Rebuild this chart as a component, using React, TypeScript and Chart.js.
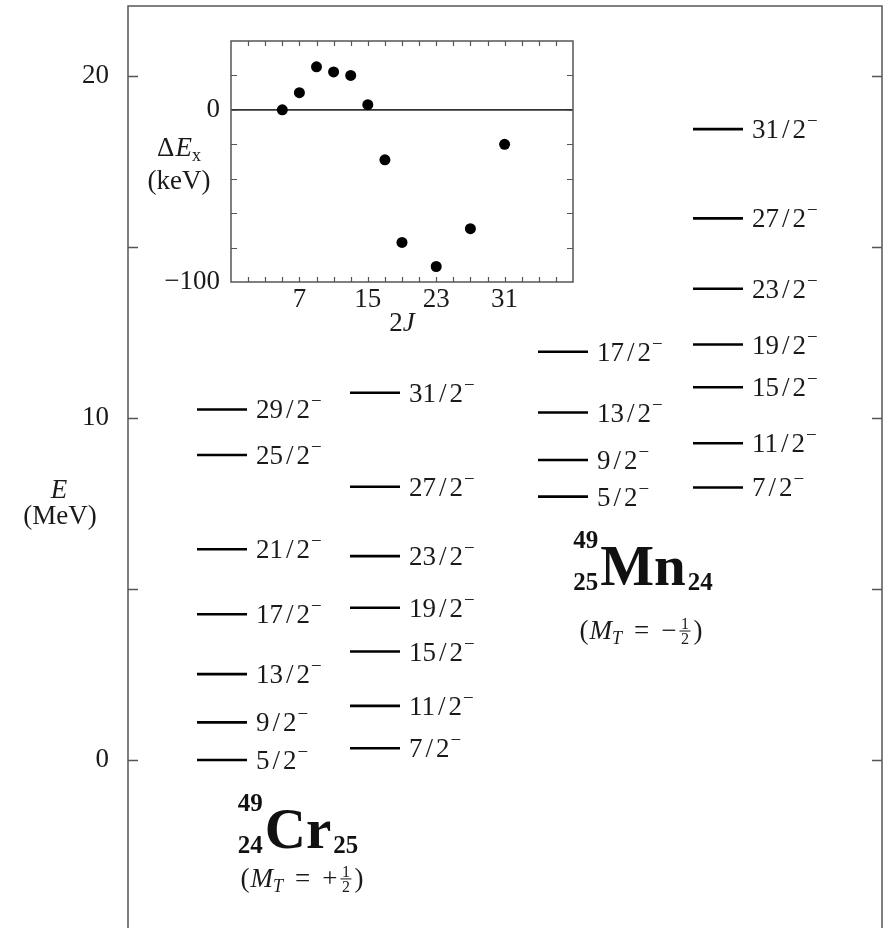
import React, { useEffect, useRef } from 'react';
import { Chart, registerables } from 'chart.js';

Chart.register(...registerables);

const SERIF = '"Liberation Serif", "Times New Roman", serif';
const INK = '#1a1a1a';
const FRAME = '#555555';

// ---------------- data ----------------
// Level scheme: 2J of each level and excitation energy E (MeV)
const crLevels2J_A = [5, 9, 13, 17, 21, 25, 29];
const crLevelsE_A = [0.0, 1.1, 2.51, 4.26, 6.16, 8.92, 10.25];
const crLevels2J_B = [7, 11, 15, 19, 23, 27, 31];
const crLevelsE_B = [0.34, 1.58, 3.17, 4.45, 5.96, 7.99, 10.74];
const mnLevels2J_A = [5, 9, 13, 17];
const mnLevelsE_A = [7.7, 8.77, 10.16, 11.94];
const mnLevels2J_B = [7, 11, 15, 19, 23, 27, 31];
const mnLevelsE_B = [7.97, 9.26, 10.9, 12.15, 13.78, 15.84, 18.45];
const energyTickLabels = [0, 10, 20];
const energyTickMarks = [0, 5, 10, 15, 20];

// Inset: mirror energy difference ΔEx (keV) vs 2J
const mirror2J = [5, 7, 9, 11, 13, 15, 17, 19, 23, 27, 31];
const mirrorDeltaE = [0, 10, 25, 22, 20, 3, -29, -77, -91, -69, -20];
const inset2JTickLabels = [7, 15, 23, 31];
const insetDETickLabels = [0, -100];

// ---------------- layout ----------------
const LEVEL_COLUMNS = [
  { x: 69, twoJ: crLevels2J_A, e: crLevelsE_A },
  { x: 222, twoJ: crLevels2J_B, e: crLevelsE_B },
  { x: 410, twoJ: mnLevels2J_A, e: mnLevelsE_A },
  { x: 565, twoJ: mnLevels2J_B, e: mnLevelsE_B },
];
const LINE_LEN = 50;
const NUCLIDES = [
  { sym: 'Cr', A: '49', Z: '24', N: '25', x: 170, e: -2.57, mtX: 174, mtE: -3.45, sign: '+' },
  { sym: 'Mn', A: '49', Z: '25', N: '24', x: 515, e: 5.12, mtX: 513, mtE: 3.8, sign: '\u2212' },
];

type Run = { t: string; font: string; dy?: number; gap?: number };

function runsWidth(ctx: CanvasRenderingContext2D, runs: Run[]) {
  let w = 0;
  for (const r of runs) {
    ctx.font = r.font;
    w += ctx.measureText(r.t).width + (r.gap || 0);
  }
  return w;
}

function drawRuns(ctx: CanvasRenderingContext2D, runs: Run[], x: number, base: number) {
  let cx = x;
  ctx.textAlign = 'left';
  ctx.textBaseline = 'alphabetic';
  for (const r of runs) {
    ctx.font = r.font;
    ctx.fillText(r.t, cx, base + (r.dy || 0));
    cx += ctx.measureText(r.t).width + (r.gap || 0);
  }
  return cx;
}

function drawCentered(ctx: CanvasRenderingContext2D, runs: Run[], cx: number, base: number) {
  const w = runsWidth(ctx, runs);
  drawRuns(ctx, runs, cx - w / 2, base);
}

function drawSpin(ctx: CanvasRenderingContext2D, x: number, yMid: number, twoJ: number) {
  const base = yMid + 9;
  ctx.fillStyle = INK;
  ctx.textAlign = 'left';
  ctx.textBaseline = 'alphabetic';
  ctx.font = `27px ${SERIF}`;
  const num = String(twoJ);
  ctx.fillText(num, x, base);
  let cx = x + ctx.measureText(num).width;
  const sw = ctx.measureText('/').width;
  const box = 13.5;
  ctx.fillText('/', cx + (box - sw) / 2, base);
  cx += box;
  ctx.fillText('2', cx, base);
  cx += ctx.measureText('2').width + 1;
  ctx.font = `19px ${SERIF}`;
  ctx.fillText('\u2212', cx, base - 11);
}

function drawMT(ctx: CanvasRenderingContext2D, cx: number, cy: number, sign: string) {
  const big = `27px ${SERIF}`;
  const it = `italic 27px ${SERIF}`;
  const itS = `italic 18px ${SERIF}`;
  const fr = `16px ${SERIF}`;
  const base = cy + 9;
  const pre: Run[] = [
    { t: '(', font: big, gap: 1 },
    { t: 'M', font: it },
    { t: 'T', font: itS, dy: 5, gap: 12 },
    { t: '=', font: big, gap: 12 },
    { t: sign, font: big, gap: 3 },
  ];
  const post: Run[] = [{ t: ')', font: big }];
  const fracW = 11;
  const total = runsWidth(ctx, pre) + fracW + 3 + runsWidth(ctx, post);
  ctx.fillStyle = INK;
  let x = cx - total / 2;
  x = drawRuns(ctx, pre, x, base);
  const barY = base - 8;
  ctx.font = fr;
  ctx.textAlign = 'center';
  ctx.fillText('1', x + fracW / 2, barY - 2);
  ctx.fillText('2', x + fracW / 2, barY + 13);
  ctx.fillRect(x, barY - 0.5, fracW, 1);
  x += fracW + 3;
  drawRuns(ctx, post, x, base);
}

function drawNuclide(ctx: CanvasRenderingContext2D, cx: number, base: number, n: any) {
  const small = `bold 25px ${SERIF}`;
  const bigB = `bold 57px ${SERIF}`;
  ctx.fillStyle = '#111';
  ctx.textBaseline = 'alphabetic';
  ctx.font = small;
  const wA = ctx.measureText(n.A).width;
  const wZ = ctx.measureText(n.Z).width;
  const wN = ctx.measureText(n.N).width;
  const pre = Math.max(wA, wZ);
  ctx.font = bigB;
  const wS = ctx.measureText(n.sym).width;
  const total = pre + 2 + wS + 2 + wN;
  const x = cx - total / 2;
  ctx.font = small;
  ctx.textAlign = 'right';
  ctx.fillText(n.A, x + pre, base - 37);
  ctx.fillText(n.Z, x + pre, base + 5);
  ctx.textAlign = 'left';
  ctx.font = bigB;
  ctx.fillText(n.sym, x + pre + 2, base);
  ctx.font = small;
  ctx.fillText(n.N, x + pre + 2 + wS + 2, base + 5);
}

const mainDecor = {
  id: 'mainDecor',
  afterDraw(chart: any) {
    const { ctx, chartArea: a, scales } = chart;
    const ys = scales.y;
    const xs = scales.x;
    ctx.save();
    // frame
    ctx.strokeStyle = FRAME;
    ctx.lineWidth = 1.5;
    ctx.strokeRect(a.left, a.top, a.right - a.left, a.bottom - a.top);
    // inward ticks on both sides
    ctx.beginPath();
    for (const v of energyTickMarks) {
      const py = Math.round(ys.getPixelForValue(v)) + 0.5;
      ctx.moveTo(a.left, py);
      ctx.lineTo(a.left + 10, py);
      ctx.moveTo(a.right, py);
      ctx.lineTo(a.right - 10, py);
    }
    ctx.stroke();
    // level labels
    chart.data.datasets.forEach((ds: any, i: number) => {
      const meta = chart.getDatasetMeta(i);
      const pt = meta.data[1];
      if (pt) drawSpin(ctx, pt.x + 9, pt.y, ds.twoJ);
    });
    // axis title
    ctx.fillStyle = INK;
    drawCentered(ctx, [{ t: 'E', font: `italic 27px ${SERIF}` }], a.left - 69, ys.getPixelForValue(7.92) + 9);
    drawCentered(ctx, [{ t: '(MeV)', font: `27px ${SERIF}` }], a.left - 68, ys.getPixelForValue(7.16) + 9);
    // nuclide names
    for (const n of NUCLIDES) {
      drawNuclide(ctx, xs.getPixelForValue(n.x), ys.getPixelForValue(n.e), n);
      drawMT(ctx, xs.getPixelForValue(n.mtX), ys.getPixelForValue(n.mtE), n.sign);
    }
    ctx.restore();
  },
};

const insetDecor = {
  id: 'insetDecor',
  beforeDatasetsDraw(chart: any) {
    const { ctx, chartArea: a, scales } = chart;
    const py = scales.y.getPixelForValue(0);
    ctx.save();
    ctx.strokeStyle = '#333';
    ctx.lineWidth = 1.6;
    ctx.beginPath();
    ctx.moveTo(a.left, py);
    ctx.lineTo(a.right, py);
    ctx.stroke();
    ctx.restore();
  },
  afterDraw(chart: any) {
    const { ctx, chartArea: a, scales } = chart;
    const xs = scales.x;
    const ys = scales.y;
    ctx.save();
    ctx.strokeStyle = FRAME;
    ctx.lineWidth = 1.5;
    ctx.strokeRect(a.left, a.top, a.right - a.left, a.bottom - a.top);
    ctx.lineWidth = 1.2;
    ctx.beginPath();
    for (const t of xs.ticks) {
      if (t.value <= xs.min || t.value >= xs.max) continue;
      const px = Math.round(xs.getPixelForValue(t.value)) + 0.5;
      ctx.moveTo(px, a.top);
      ctx.lineTo(px, a.top + 5);
      ctx.moveTo(px, a.bottom);
      ctx.lineTo(px, a.bottom - 5);
    }
    for (const t of ys.ticks) {
      if (t.value <= ys.min || t.value >= ys.max) continue;
      const py = Math.round(ys.getPixelForValue(t.value)) + 0.5;
      ctx.moveTo(a.left, py);
      ctx.lineTo(a.left + 6, py);
      ctx.moveTo(a.right, py);
      ctx.lineTo(a.right - 6, py);
    }
    ctx.stroke();
    ctx.fillStyle = INK;
    drawCentered(
      ctx,
      [
        { t: '\u0394', font: `27px ${SERIF}`, gap: 1 },
        { t: 'E', font: `italic 27px ${SERIF}` },
        { t: 'x', font: `18px ${SERIF}`, dy: 5 },
      ],
      a.left - 52,
      a.top + 115
    );
    drawCentered(ctx, [{ t: '(keV)', font: `27px ${SERIF}` }], a.left - 52, a.top + 148);
    drawCentered(
      ctx,
      [
        { t: '2', font: `27px ${SERIF}` },
        { t: 'J', font: `italic 27px ${SERIF}` },
      ],
      xs.getPixelForValue(19),
      a.bottom + 49
    );
    ctx.restore();
  },
};

function buildLevelDatasets() {
  const ds: any[] = [];
  for (const col of LEVEL_COLUMNS) {
    col.twoJ.forEach((j, i) => {
      ds.push({
        label: `${j}/2-`,
        twoJ: j,
        data: [
          { x: col.x, y: col.e[i] },
          { x: col.x + LINE_LEN, y: col.e[i] },
        ],
        borderColor: '#000',
        borderWidth: 2.6,
        borderCapStyle: 'butt',
        pointRadius: 0,
        showLine: true,
        fill: false,
        tension: 0,
      });
    });
  }
  return ds;
}

export default function App() {
  const mainRef = useRef<HTMLCanvasElement>(null);
  const insetRef = useRef<HTMLCanvasElement>(null);

  useEffect(() => {
    const main = new Chart(mainRef.current as HTMLCanvasElement, {
      type: 'line',
      data: { datasets: buildLevelDatasets() },
      options: {
        animation: false,
        responsive: false,
        maintainAspectRatio: false,
        events: [],
        layout: { padding: { left: 0, top: 6, right: 3, bottom: 2 } },
        plugins: { legend: { display: false }, tooltip: { enabled: false } },
        scales: {
          x: { type: 'linear', min: 0, max: 754, display: false },
          y: {
            type: 'linear',
            min: -5.5,
            max: 22.05,
            position: 'left',
            grid: { display: false, drawTicks: false },
            border: { display: false },
            afterFit: (s: any) => {
              s.width = 128;
              s.paddingTop = 0;
              s.paddingBottom = 0;
            },
            ticks: {
              stepSize: 5,
              autoSkip: false,
              padding: 19,
              color: INK,
              font: { family: SERIF, size: 27 },
              callback: (v: any) => (energyTickLabels.includes(v) ? String(v) : ''),
            },
          },
        },
      } as any,
      plugins: [mainDecor],
    });

    const inset = new Chart(insetRef.current as HTMLCanvasElement, {
      type: 'scatter',
      data: {
        datasets: [
          {
            data: mirror2J.map((j, i) => ({ x: j, y: mirrorDeltaE[i] })),
            backgroundColor: '#000',
            borderWidth: 0,
            pointRadius: 5.5,
          },
        ],
      },
      options: {
        animation: false,
        responsive: false,
        maintainAspectRatio: false,
        events: [],
        layout: { padding: { left: 131, top: 41, right: 312, bottom: 608 } },
        plugins: { legend: { display: false }, tooltip: { enabled: false } },
        scales: {
          x: {
            type: 'linear',
            min: -1,
            max: 39,
            grid: { display: false, drawTicks: false },
            border: { display: false },
            afterFit: (s: any) => {
              s.height = 60;
              s.paddingLeft = 0;
              s.paddingRight = 0;
            },
            ticks: {
              stepSize: 2,
              autoSkip: false,
              maxRotation: 0,
              padding: 2,
              color: INK,
              font: { family: SERIF, size: 27 },
              callback: (v: any) => (inset2JTickLabels.includes(v) ? String(v) : ''),
            },
          },
          y: {
            type: 'linear',
            min: -100,
            max: 40,
            grid: { display: false, drawTicks: false },
            border: { display: false },
            afterFit: (s: any) => {
              s.width = 100;
              s.paddingTop = 0;
              s.paddingBottom = 0;
            },
            ticks: {
              stepSize: 20,
              autoSkip: false,
              padding: 11,
              color: INK,
              font: { family: SERIF, size: 27 },
              callback: (v: any) =>
                insetDETickLabels.includes(v) ? (v < 0 ? '\u2212' + Math.abs(v) : String(v)) : '',
            },
          },
        },
      } as any,
      plugins: [insetDecor],
    });

    return () => {
      main.destroy();
      inset.destroy();
    };
  }, []);

  return (
    <div
      style={{
        position: 'fixed',
        left: 0,
        top: 0,
        width: 885,
        height: 928,
        overflow: 'hidden',
        background: '#fff',
      }}
    >
      <canvas
        ref={mainRef}
        width={885}
        height={950}
        style={{ position: 'absolute', left: 0, top: 0, width: 885, height: 950 }}
      />
      <canvas
        ref={insetRef}
        width={885}
        height={950}
        style={{ position: 'absolute', left: 0, top: 0, width: 885, height: 950 }}
      />
    </div>
  );
}
